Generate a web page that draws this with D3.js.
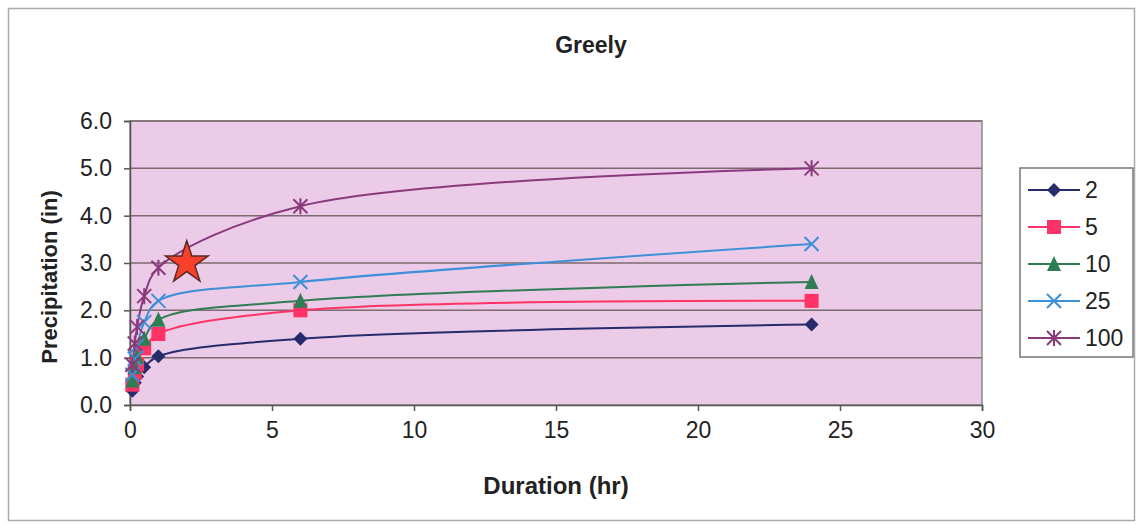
<!DOCTYPE html>
<html>
<head>
<meta charset="utf-8">
<script src="https://cdn.jsdelivr.net/npm/d3@7"></script>
<style>
  body { margin: 0; background: #fff; }
  text { font-family: Arial, "Liberation Sans", sans-serif; fill: #222; }
</style>
</head>
<body>
<svg width="1138" height="525"></svg>
<script>
// data
var durations = [0.083, 0.167, 0.25, 0.5, 1, 6, 24];
var returnPeriods = ["2", "5", "10", "25", "100"];
var p2   = [0.30, 0.47, 0.60, 0.80, 1.03, 1.40, 1.70];
var p5   = [0.43, 0.68, 0.86, 1.20, 1.50, 2.00, 2.20];
var p10  = [0.52, 0.80, 1.02, 1.40, 1.80, 2.20, 2.60];
var p25  = [0.64, 0.98, 1.25, 1.75, 2.20, 2.60, 3.40];
var p100 = [0.85, 1.30, 1.65, 2.30, 2.90, 4.20, 5.00];
var starPoint = [2, 3.0];
var xTicks = [0, 5, 10, 15, 20, 25, 30];
var yTicks = [0, 1, 2, 3, 4, 5, 6];

var colors = ["#262c6b", "#ff3366", "#2f7d52", "#3d8fd8", "#8a3a7c"];
var shapes = ["diamond", "square", "triangle", "x", "star"];
var values = [p2, p5, p10, p25, p100];

var series = returnPeriods.map(function(rp, i) {
  return {
    name: rp, color: colors[i], shape: shapes[i],
    pts: durations.map(function(d, j) { return [d, values[i][j]]; })
  };
});

var svg = d3.select("svg");

// chart frame
svg.append("rect")
    .attr("x", 8.5).attr("y", 8.5)
    .attr("width", 1126).attr("height", 512)
    .attr("fill", "#fff").attr("stroke", "#aaa").attr("stroke-width", 1.5);

var plotLeft = 130, plotRight = 982, plotTop = 121, plotBottom = 405;

var x = d3.scaleLinear().domain([0, 30]).range([plotLeft, plotRight]);
var y = d3.scaleLinear().domain([0, 6]).range([plotBottom, plotTop]);

// plot area
svg.append("rect")
    .attr("x", plotLeft).attr("y", plotTop)
    .attr("width", plotRight - plotLeft).attr("height", plotBottom - plotTop)
    .attr("fill", "#ebcbe8").attr("stroke", "#8a8a8a").attr("stroke-width", 1.5);

// gridlines
svg.append("g").selectAll("line")
  .data(yTicks.slice(1))
  .enter().append("line")
    .attr("x1", plotLeft).attr("x2", plotRight)
    .attr("y1", function(d) { return y(d); })
    .attr("y2", function(d) { return y(d); })
    .attr("stroke", "#7d6a6e").attr("stroke-width", 1.5);

// axes
var xAxis = svg.append("g")
    .attr("transform", "translate(0," + plotBottom + ")")
    .call(d3.axisBottom(x).tickValues(xTicks).tickSize(6).tickPadding(11).tickFormat(d3.format("d")));
var yAxis = svg.append("g")
    .attr("transform", "translate(" + plotLeft + ",0)")
    .call(d3.axisLeft(y).tickValues(yTicks).tickSize(6).tickPadding(12).tickFormat(d3.format(".1f")));

[xAxis, yAxis].forEach(function(a) {
  a.select(".domain").attr("stroke", "#555").attr("stroke-width", 1.5);
  a.selectAll(".tick line").attr("stroke", "#555").attr("stroke-width", 1.5);
  a.selectAll(".tick text").attr("font-size", "23px").attr("fill", "#333")
      .attr("font-family", "Arial, 'Liberation Sans', sans-serif");
});

// lines
var line = d3.line()
    .x(function(d) { return x(d[0]); })
    .y(function(d) { return y(d[1]); })
    .curve(d3.curveCatmullRom.alpha(0.5));

svg.append("g").selectAll("path")
  .data(series)
  .enter().append("path")
    .attr("d", function(d) { return line(d.pts); })
    .attr("fill", "none")
    .attr("stroke", function(d) { return d.color; })
    .attr("stroke-width", 2);

function drawMarker(g, shape, color, s) {
  if (shape == "diamond") {
    g.append("path").attr("d", "M0,-" + s + "L" + s + ",0L0," + s + "L-" + s + ",0Z").attr("fill", color);
  } else if (shape == "square") {
    g.append("rect").attr("x", -s).attr("y", -s).attr("width", 2 * s).attr("height", 2 * s).attr("fill", color);
  } else if (shape == "triangle") {
    g.append("path").attr("d", "M0,-" + (s + 1) + "L" + s + "," + s + "L-" + s + "," + s + "Z").attr("fill", color);
  } else if (shape == "x") {
    g.append("path").attr("d", "M-" + s + ",-" + s + "L" + s + "," + s + "M" + s + ",-" + s + "L-" + s + "," + s)
        .attr("stroke", color).attr("stroke-width", 2).attr("fill", "none");
  } else {
    g.append("path").attr("d", "M-" + s + ",-" + s + "L" + s + "," + s + "M" + s + ",-" + s + "L-" + s + "," + s + "M0,-" + (s + 1) + "L0," + (s + 1))
        .attr("stroke", color).attr("stroke-width", 2).attr("fill", "none");
  }
}

var markerSize = 7;

series.forEach(function(s) {
  var g = svg.append("g");
  s.pts.forEach(function(p) {
    var m = g.append("g").attr("transform", "translate(" + x(p[0]) + "," + y(p[1]) + ")");
    drawMarker(m, s.shape, s.color, markerSize);
  });
});

// red star annotation
svg.append("path")
    .attr("d", d3.symbol().type(d3.symbolStar).size(560)())
    .attr("transform", "translate(" + x(starPoint[0]) + "," + y(starPoint[1]) + ")")
    .attr("fill", "#f8402c").attr("stroke", "#5a2a22").attr("stroke-width", 1.5);

// title + axis labels
svg.append("text")
    .attr("x", 591).attr("y", 53)
    .attr("text-anchor", "middle")
    .attr("font-size", "23px").attr("font-weight", "bold")
    .attr("fill", "#333")
    .text("Greely");

svg.append("text")
    .attr("x", 556).attr("y", 494)
    .attr("text-anchor", "middle")
    .attr("font-size", "24px").attr("font-weight", "bold")
    .attr("fill", "#333")
    .text("Duration (hr)");

svg.append("text")
    .attr("transform", "translate(57," + ((plotTop + plotBottom) / 2 + 14) + ") rotate(-90)")
    .attr("text-anchor", "middle")
    .attr("font-size", "22px").attr("font-weight", "bold")
    .attr("fill", "#333")
    .text("Precipitation (in)");

// legend
var legend = svg.append("g");
legend.append("rect")
    .attr("x", 1020).attr("y", 168)
    .attr("width", 113).attr("height", 189)
    .attr("fill", "#fff").attr("stroke", "#777").attr("stroke-width", 1.5);

series.forEach(function(s, i) {
  var ly = 190 + i * 37;
  var item = legend.append("g");
  item.append("line")
      .attr("x1", 1028).attr("x2", 1080)
      .attr("y1", ly).attr("y2", ly)
      .attr("stroke", s.color).attr("stroke-width", 2);
  var m = item.append("g").attr("transform", "translate(1054," + ly + ")");
  drawMarker(m, s.shape, s.color, markerSize);
  item.append("text")
      .attr("x", 1085).attr("y", ly + 8)
      .attr("font-size", "23px")
      .attr("fill", "#333")
      .text(s.name);
});
</script>
</body>
</html>
